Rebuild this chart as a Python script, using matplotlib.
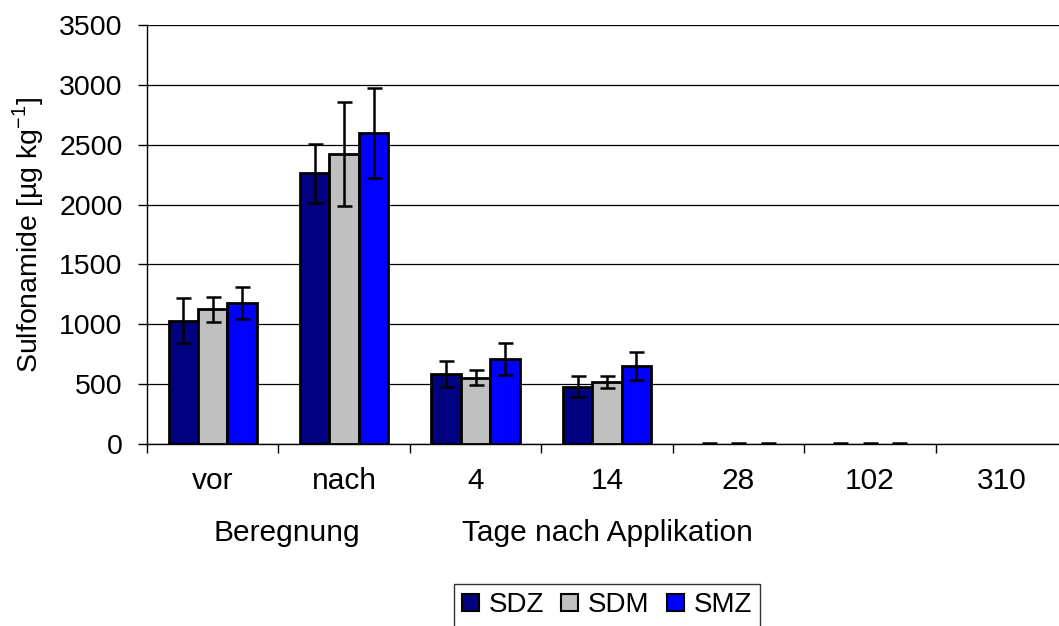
import numpy as np
import matplotlib
matplotlib.use("Agg")
from matplotlib import pyplot as plt

plt.rcParams['font.family'] = ['Liberation Sans', 'DejaVu Sans']

# Data
categories = ['vor', 'nach', '4', '14', '28', '102', '310']
series = ['SDZ', 'SDM', 'SMZ']
sdz = [1030, 2260, 585, 480, 0, 0, 0]
sdm = [1125, 2425, 555, 520, 0, 0, 0]
smz = [1180, 2595, 710, 650, 0, 0, 0]
sdz_err = [190, 245, 105, 90, 8, 8, 0]
sdm_err = [105, 435, 60, 50, 8, 8, 0]
smz_err = [135, 375, 130, 115, 8, 8, 0]
colors = ['#000080', '#c0c0c0', '#0000ff']

fig = plt.figure(figsize=(10.59, 6.26), dpi=100)
# plot area runs past the right edge of the picture, as in the original
ax = fig.add_axes([147 / 1059, 182 / 626, 920 / 1059, 419 / 626])

x = np.arange(len(categories))
width = 0.224
values = [sdz, sdm, smz]
errors = [sdz_err, sdm_err, smz_err]
for i, (vals, errs) in enumerate(zip(values, errors)):
    vals = np.array(vals)
    errs = np.array(errs)
    pos = x + (i - 1) * width
    # zero-height bars are left out (only the tiny error caps show)
    nz = vals > 0
    ax.bar(pos[nz], vals[nz], width, color=colors[i], edgecolor='black',
           linewidth=2, label=series[i], zorder=3)
    ax.errorbar(pos[errs > 0], vals[errs > 0], yerr=errs[errs > 0], fmt='none',
                ecolor='black', elinewidth=1.8, capsize=5.4, capthick=1.8,
                zorder=4)

ax.set_xlim(-0.5, len(categories) - 0.5)
ax.set_ylim(0, 3500)
ax.set_yticks(np.arange(0, 3501, 500))
ax.yaxis.grid(True, color='black', linewidth=0.9)
ax.set_axisbelow(True)
for s in ['top', 'right']:
    ax.spines[s].set_visible(False)
ax.spines['left'].set_linewidth(1)
ax.spines['bottom'].set_linewidth(1)
ax.spines['bottom'].set_zorder(5)

ax.set_xticks(np.arange(-0.5, len(categories), 1.0))
ax.set_xticklabels([])
ax.tick_params(axis='x', length=6.5, width=1)
ax.tick_params(axis='y', length=6.5, width=1, labelsize=20.5, pad=11)
for xi, lab in zip(x, categories):
    ax.text(xi, -0.056, lab, transform=ax.get_xaxis_transform(),
            ha='center', va='top', fontsize=21.5)
ax.text(0.56, -0.18, 'Beregnung', transform=ax.get_xaxis_transform(),
        ha='center', va='top', fontsize=21.5)
ax.text(3.0, -0.18, 'Tage nach Applikation', transform=ax.get_xaxis_transform(),
        ha='center', va='top', fontsize=21.5)

fig.text(28 / 1059, 1 - 235 / 626, 'Sulfonamide [µg kg$^{\\mathregular{-1}}$]',
         rotation=90, ha='center', va='center', fontsize=20.5)

leg = fig.legend(loc='upper center', bbox_to_anchor=(607 / 1059, 1 - 584 / 626),
                 ncol=3, fontsize=20, frameon=True, fancybox=False,
                 edgecolor='black', handlelength=0.61, handleheight=0.61,
                 handletextpad=0.36, columnspacing=0.61, borderpad=0.3,
                 borderaxespad=0)
leg.get_frame().set_linewidth(1)
for h in leg.legend_handles:
    h.set_linewidth(1.5)

fig.savefig('out.png', dpi=100)
